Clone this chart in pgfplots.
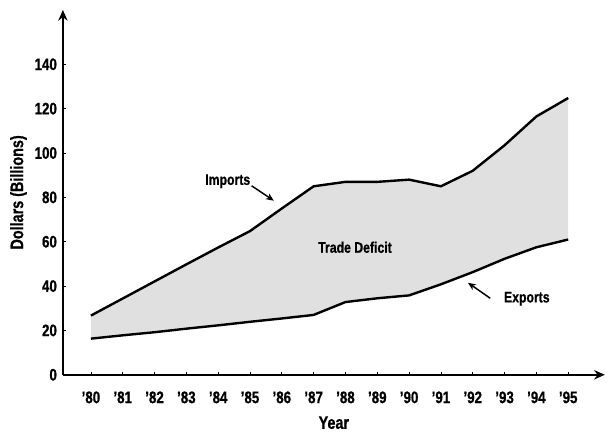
\documentclass[border=0pt]{standalone}
\usepackage{pgfplots}
\pgfplotsset{compat=1.18}
\usepackage{fontspec}
\setmainfont{Liberation Sans}[FakeStretch=0.8, BoldFeatures={FakeBold=0.8}]
\usetikzlibrary{arrows.meta}
\usepgfplotslibrary{fillbetween}
\begin{document}
\begin{tikzpicture}[x=0.75pt,y=0.75pt]
\begin{axis}[
  scale only axis,
  width=407pt, height=274pt,
  xmin=-0.88, xmax=16.15,
  ymin=0, ymax=164.5,
  axis lines=left,
  axis line style={line width=1.8pt, -{Stealth[length=8pt,width=7pt]}},
  xtick={0,...,15},
  xticklabels={'80,'81,'82,'83,'84,'85,'86,'87,'88,'89,'90,'91,'92,'93,'94,'95},
  ytick={0,20,...,140},
  tick style={black, line width=0.6pt},
  major tick length=2pt,
  tick align=inside,
  ticklabel style={font=\fontsize{12.5}{14}\selectfont\bfseries},
  xticklabel style={yshift=-9pt},
  yticklabel style={xshift=-1pt},
  /pgf/number format/assume math mode=true,
  xlabel={Year}, ylabel={Dollars (Billions)},
  label style={font=\fontsize{13.5}{15}\selectfont\bfseries},
  xlabel style={yshift=-3pt},
  ylabel style={yshift=-1pt},
  clip=false,
]
\addplot[name path=imp, black, line width=1.8pt] coordinates {
(0,26.7) (1,34.4) (2,42.1) (3,49.8) (4,57.4) (5,64.8) (6,75) (7,85) (8,87) (9,87) (10,88) (11,85) (12,92) (13,103.5) (14,116.5) (15,124.8)};
\addplot[name path=exp, black, line width=1.8pt] coordinates {
(0,16.3) (1,17.8) (2,19.2) (3,20.8) (4,22.3) (5,23.9) (6,25.4) (7,27) (8,32.8) (9,34.5) (10,35.8) (11,40.8) (12,46.3) (13,52.3) (14,57.5) (15,61)};
\addplot[black!12] fill between[of=imp and exp];
\node[font=\fontsize{11.5}{13}\selectfont\bfseries] at (axis cs:8.3,57.5) {Trade Deficit};
\node[font=\fontsize{11.5}{13}\selectfont\bfseries] at (axis cs:4.3,87.3) {Imports};
\draw[-{Stealth[length=6pt,width=5pt]}, line width=1.1pt] (axis cs:5.05,85.2) -- (axis cs:5.75,78.5);
\node[font=\fontsize{11.5}{13}\selectfont\bfseries] at (axis cs:13.7,34.3) {Exports};
\draw[-{Stealth[length=6pt,width=5pt]}, line width=1.1pt] (axis cs:12.55,34.5) -- (axis cs:11.85,41.5);
\path (rel axis cs:0,0) ++(-47.25pt,-47.25pt) coordinate (bbA);
\path (rel axis cs:1,1) ++(0pt,7.5pt) coordinate (bbB);
\end{axis}
\path[use as bounding box] (bbA) rectangle (bbB);
\end{tikzpicture}
\end{document}
